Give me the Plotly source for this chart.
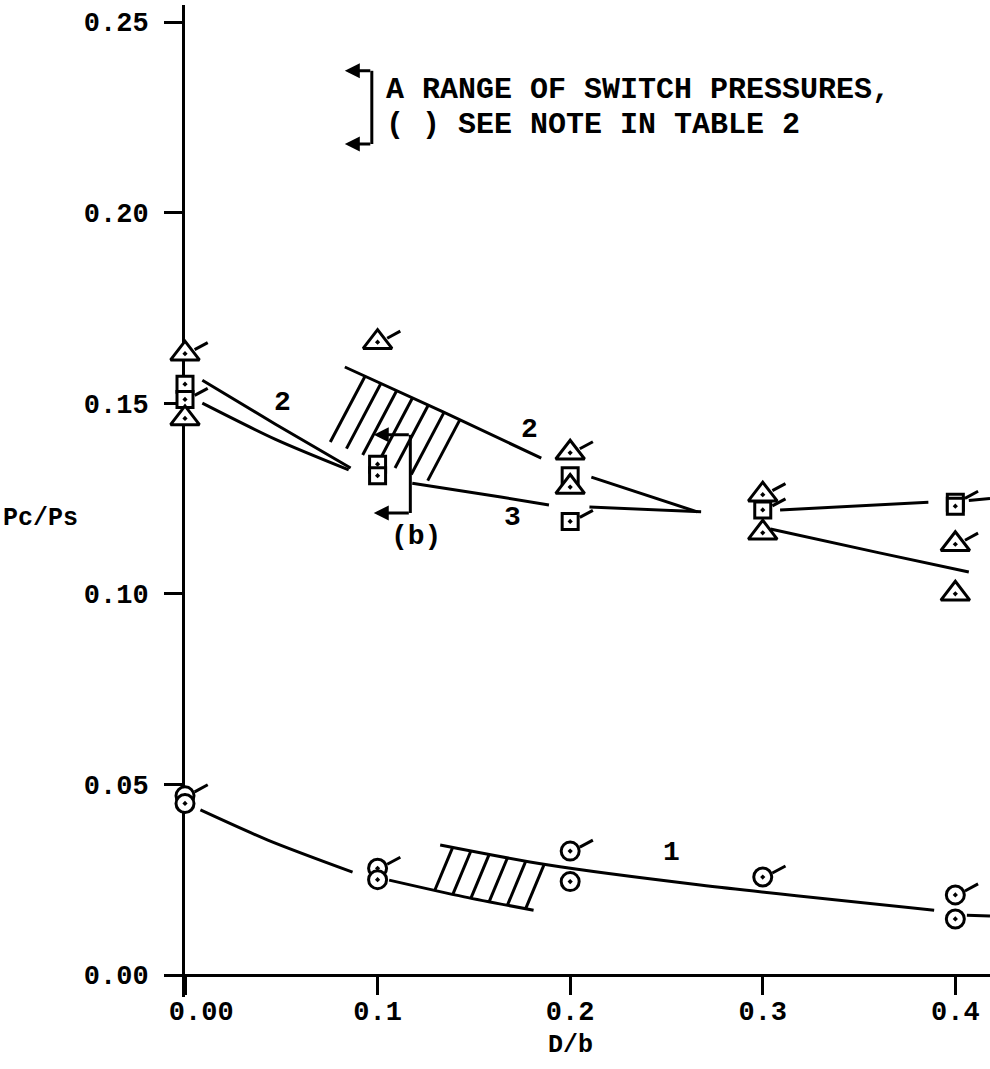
import numpy as np
import plotly.graph_objects as go

# ---- measured switch pressures, Pc/Ps against D/b ----
# configuration 2 (triangles); *_tick marks the points drawn with a tick flag
tri_x = [0.0, 0.0, 0.1, 0.2, 0.2, 0.3, 0.3, 0.4, 0.4]
tri_y = [0.163, 0.146, 0.166, 0.137, 0.128, 0.126, 0.116, 0.113, 0.100]
tri_tick = [1, 0, 1, 1, 0, 1, 0, 1, 0]

# configuration 3 (squares)
sq_x = [0.0, 0.0, 0.1, 0.1, 0.2, 0.2, 0.3, 0.4, 0.4]
sq_y = [0.155, 0.151, 0.134, 0.131, 0.131, 0.119, 0.122, 0.124, 0.123]
sq_tick = [0, 1, 0, 0, 0, 1, 1, 1, 0]

# configuration 1 (circles)
cir_x = [0.0, 0.0, 0.1, 0.1, 0.2, 0.2, 0.3, 0.4, 0.4]
cir_y = [0.047, 0.045, 0.028, 0.025, 0.0325, 0.0245, 0.0257, 0.021, 0.0147]
cir_tick = [1, 0, 1, 0, 1, 0, 1, 1, 0]

# ---- faired curves (pieces stop short of the symbols) ----
curve1_x = [[0.008, 0.043, 0.087], [0.106, 0.145, 0.181], [0.1325, 0.188, 0.2675, 0.389]]
curve1_y = [[0.0433, 0.0354, 0.027], [0.0249, 0.0205, 0.017], [0.0341, 0.0289, 0.0236, 0.017]]
curve1_dash_x = [0.406, 0.418]
curve1_dash_y = [0.0157, 0.0155]

curve2_x = [[0.009, 0.047, 0.086], [0.083, 0.134, 0.185], [0.211, 0.266], [0.304, 0.36, 0.407]]
curve2_y = [[0.156, 0.1445, 0.133], [0.1595, 0.1477, 0.1356], [0.1306, 0.1215], [0.117, 0.1108, 0.1057]]

curve3_x = [[0.009, 0.047, 0.085], [0.118, 0.164, 0.189], [0.210, 0.268], [0.309, 0.386]]
curve3_y = [[0.150, 0.1405, 0.1325], [0.129, 0.1254, 0.1233], [0.1228, 0.1215], [0.122, 0.124]]
curve3_dash_x = [0.407, 0.418]
curve3_dash_y = [0.1245, 0.125]

# ---- ranges of switch pressure (hatched bands) ----
band_hi_top_x = [0.083, 0.134, 0.185]
band_hi_top_y = [0.1595, 0.1477, 0.1356]
band_hi_bot_x = [0.072, 0.125, 0.145]
band_hi_bot_y = [0.1405, 0.1298, 0.128]

band_lo_top_x = [0.1325, 0.188]
band_lo_top_y = [0.0341, 0.0289]
band_lo_bot_x = [0.106, 0.145, 0.181]
band_lo_bot_y = [0.0249, 0.0205, 0.017]

# range bracket "(b)" at D/b = 0.1
range_b = [0.1212, 0.1417]

# ---- axis ticks ----
x_tick_vals = [0.0, 0.1, 0.2, 0.3, 0.4]
x_tick_text = ["\u00a0\u00a00.00", "0.1", "0.2", "0.3", "0.4"]
y_tick_vals = [0.0, 0.05, 0.10, 0.15, 0.20, 0.25]
y_tick_text = ["0.00", "0.05", "0.10", "0.15", "0.20", "0.25"]

# ---- styling ----
INK = "black"
FONT = "Liberation Mono"
LW = 3
X_RANGE = [0.0, 0.418]
Y_RANGE = [-0.00577, 0.25446]
FLAG = (0.0050, 0.00105, 0.0118, 0.0029)  # start dx, dy, end dx, dy


def flags(xs, ys, marks):
    fx, fy = [], []
    for x, y, m in zip(xs, ys, marks):
        if m:
            fx += [x + FLAG[0], x + FLAG[2], None]
            fy += [y + FLAG[1], y + FLAG[3], None]
    return fx, fy


def hatch(top_x, top_y, bot_x, bot_y, x0, x1, step, dx, dy):
    hx, hy = [], []
    t = np.linspace(0, 4, 4001)
    for xt in np.arange(x0, x1 + 1e-9, step):
        yt = float(np.interp(xt, top_x, top_y))
        px = xt + dx * t
        py = yt + dy * t
        yb = np.interp(px, bot_x, bot_y)
        k = int(np.argmax(py <= yb))
        hx += [xt, float(px[k]), None]
        hy += [yt, float(py[k]), None]
    return hx, hy


def line(fig, x, y, dash="solid", shape="spline"):
    fig.add_trace(go.Scatter(x=x, y=y, mode="lines", hoverinfo="skip",
                             line=dict(color=INK, width=LW, dash=dash, shape=shape,
                                       smoothing=0.8)))


def px_x(p):
    """pixel column -> paper fraction"""
    return (p - 185) / 805.0


def px_y(p):
    """pixel row -> paper fraction"""
    return (997 - p) / 992.0


fig = go.Figure()

# curves
for xs, ys in zip(curve1_x, curve1_y):
    line(fig, xs, ys)
for xs, ys in zip(curve2_x, curve2_y):
    line(fig, xs, ys)
for xs, ys in zip(curve3_x, curve3_y):
    line(fig, xs, ys)
line(fig, curve1_dash_x, curve1_dash_y, shape="linear")
line(fig, curve3_dash_x, curve3_dash_y, shape="linear")

# hatched bands
hx, hy = hatch(band_hi_top_x, band_hi_top_y, band_hi_bot_x, band_hi_bot_y,
               0.0935, 0.1427, 0.0082, -0.01646, -0.01574)
line(fig, hx, hy, shape="linear")
hx, hy = hatch(band_lo_top_x, band_lo_top_y, band_lo_bot_x, band_lo_bot_y,
               0.139, 0.1866, 0.0095, -0.00866, -0.0105)
line(fig, hx, hy, shape="linear")

# "(b)" bracket
fig.add_trace(go.Scatter(x=[0.117, 0.117], y=range_b, mode="lines", hoverinfo="skip",
                         line=dict(color=INK, width=LW)))


# symbols
def points(xs, ys, symbol, size):
    fig.add_trace(go.Scatter(x=xs, y=ys, mode="markers", cliponaxis=False, hoverinfo="skip",
                             marker=dict(symbol=symbol, size=size, color="white",
                                         line=dict(color=INK, width=LW))))


points(cir_x, cir_y, "circle-dot", 18)
points(sq_x, sq_y, "square-dot", 16)
points(tri_x, tri_y, "triangle-up-dot", 25)

for xs, ys, ms in [(cir_x, cir_y, cir_tick), (sq_x, sq_y, sq_tick), (tri_x, tri_y, tri_tick)]:
    fx, fy = flags(xs, ys, ms)
    fig.add_trace(go.Scatter(x=fx, y=fy, mode="lines", cliponaxis=False, hoverinfo="skip",
                             line=dict(color=INK, width=LW)))

label_font = dict(family=FONT, size=28, color=INK, weight="bold")

annotations = [
    dict(x=0.0504, y=0.1501, text="2"),
    dict(x=0.1787, y=0.1432, text="2"),
    dict(x=0.170, y=0.1200, text="3"),
    dict(x=0.2524, y=0.0322, text="1"),
    dict(x=0.120, y=0.1150, text="(b)"),
]
for a in annotations:
    a.update(xref="x", yref="y", showarrow=False, font=label_font,
             xanchor="center", yanchor="middle")

# range arrows of the "(b)" bracket
for yv in range_b:
    annotations.append(dict(x=0.098, y=yv, ax=0.117, ay=yv, xref="x", yref="y",
                            axref="x", ayref="y", text="", showarrow=True,
                            arrowhead=2, arrowsize=1.0, arrowwidth=LW, arrowcolor=INK))

# key: bracket with arrows and the note
key_top, key_bot, key_x, key_tip = 0.2372, 0.2180, 0.097, 0.083
fig.add_shape(type="line", x0=key_x, x1=key_x, y0=key_bot, y1=key_top,
              xref="x", yref="y", line=dict(color=INK, width=LW))
for yv in (key_top, key_bot):
    annotations.append(dict(x=key_tip, y=yv, ax=key_x, ay=yv, xref="x", yref="y",
                            axref="x", ayref="y", text="", showarrow=True,
                            arrowhead=2, arrowsize=1.0, arrowwidth=LW, arrowcolor=INK))
key_font = dict(family=FONT, size=30, color=INK, weight="bold")
annotations.append(dict(x=0.104, y=0.2322, xref="x", yref="y", showarrow=False,
                        xanchor="left", yanchor="middle", font=key_font, borderpad=0,
                        text="A RANGE OF SWITCH PRESSURES,"))
annotations.append(dict(x=0.104, y=0.2230, xref="x", yref="y", showarrow=False,
                        xanchor="left", yanchor="middle", font=key_font, borderpad=0,
                        text="( ) SEE NOTE IN TABLE 2"))

# axis titles (placed in paper coordinates, outside the plotting area)
annotations.append(dict(x=px_x(40), y=px_y(518), xref="paper", yref="paper", showarrow=False,
                        xanchor="center", yanchor="middle",
                        font=dict(family=FONT, size=25, color=INK, weight="bold"), text="Pc/Ps"))
annotations.append(dict(x=px_x(570), y=px_y(1045), xref="paper", yref="paper", showarrow=False,
                        xanchor="center", yanchor="middle",
                        font=dict(family=FONT, size=25, color=INK, weight="bold"), text="D/b"))

tick_font = dict(family=FONT, size=27, color=INK, weight="bold")
zero_frac = -Y_RANGE[0] / (Y_RANGE[1] - Y_RANGE[0])

fig.update_layout(
    width=990, height=1069,
    margin=dict(l=185, r=0, t=5, b=72),
    paper_bgcolor="white", plot_bgcolor="white",
    showlegend=False,
    annotations=annotations,
    xaxis=dict(range=X_RANGE, showgrid=False, zeroline=False, showline=True,
               linecolor=INK, linewidth=LW, anchor="free", position=zero_frac,
               ticks="outside", ticklen=18, tickwidth=LW, tickcolor=INK,
               tickvals=x_tick_vals, ticktext=x_tick_text, tickfont=tick_font,
               ticklabelstandoff=-7, layer="below traces", fixedrange=True),
    yaxis=dict(range=Y_RANGE, showgrid=False, zeroline=False, showline=True,
               linecolor=INK, linewidth=LW, ticks="outside", ticklen=18,
               tickwidth=LW, tickcolor=INK, tickvals=y_tick_vals, ticktext=y_tick_text,
               tickfont=tick_font, ticklabelstandoff=10, layer="below traces",
               fixedrange=True),
)

fig.write_html("out.html")
